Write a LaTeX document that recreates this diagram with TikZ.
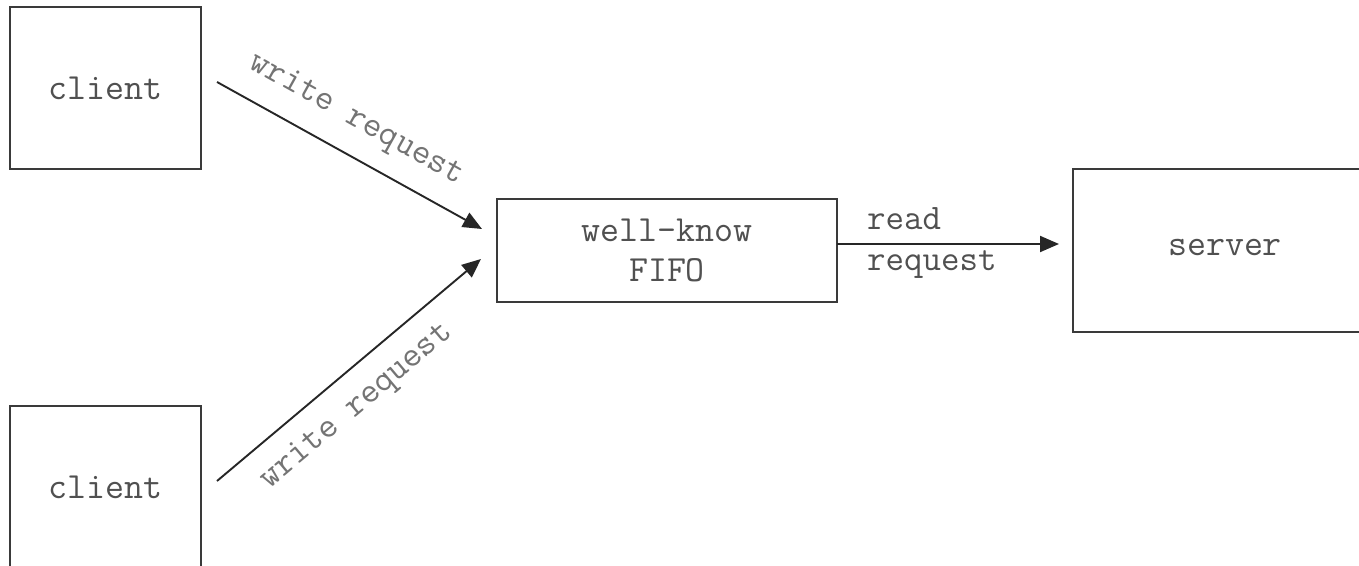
\documentclass[tikz,border=0pt]{standalone}
\usepackage{fontspec}
\usetikzlibrary{arrows.meta}
\definecolor{boxline}{HTML}{3A3A3A}
\definecolor{boxtext}{HTML}{505050}
\definecolor{lbltext}{HTML}{747474}
\tikzset{
  box/.style={draw=boxline, line width=1.6bp, fill=white, inner sep=0pt, outer sep=0pt,
    font=\ttfamily\fontsize{37}{41}\selectfont, text=boxtext, align=center},
  conn/.style={draw=black!85, line width=1.9bp, -{Triangle[length=19bp,width=16bp]}},
  lbl/.style={font=\ttfamily\fontsize{36}{41}\selectfont, text=lbltext, inner sep=0pt},
}
\begin{document}
\begin{tikzpicture}[x=1bp,y=-1bp]
\useasboundingbox (0,0) rectangle (1359,566);
\clip (0,0) rectangle (1359,566);
\fill[white] (0,0) rectangle (1359,566);
% boxes
\node[box, minimum width=191bp, minimum height=162bp] (c1) at (105.5,88) {client};
\node[box, minimum width=191bp, minimum height=162bp] (c2) at (105.5,487) {client};
\node[box, minimum width=340bp, minimum height=103bp] (fifo) at (667,250.5) {well-know\\FIFO};
\node[box, minimum width=304bp, minimum height=163bp, text depth=0pt] (srv) at (1225,250.5) {\raisebox{6bp}{server}};
% connector endpoints
\coordinate (a1s) at (217,82);
\coordinate (a1e) at (482,229);
\coordinate (a2s) at (217,481);
\coordinate (a2e) at (481,259);
\coordinate (a3s) at (fifo.east |- 0,244);
\coordinate (a3e) at (1059,244);
% connectors
\draw[conn] (a1s) -- (a1e);
\draw[conn] (a2s) -- (a2e);
\draw[conn] (a3s) -- (a3e);
% labels
\node[lbl, rotate=-29.1] (l1) at (356,120) {write request};
\node[lbl, rotate=40.1] (l2) at (357,407) {write request};
\node[lbl, text=boxtext, align=left, anchor=west] (l3) at (867,243) {read\\request};
\end{tikzpicture}
\end{document}
